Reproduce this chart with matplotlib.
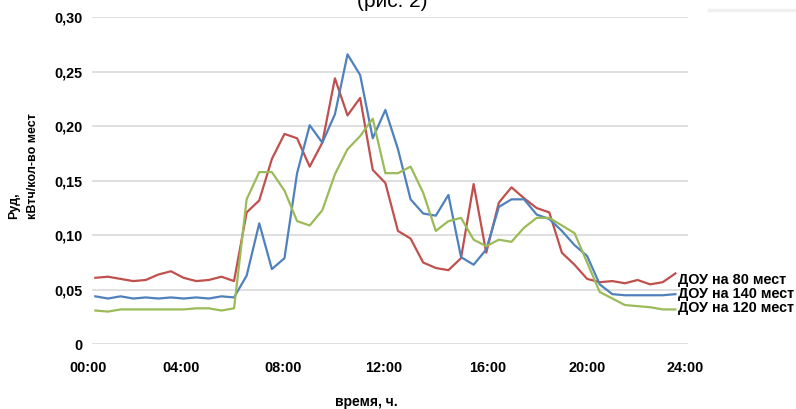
import matplotlib
matplotlib.use("Agg")
import matplotlib.pyplot as plt
from matplotlib.lines import Line2D

plt.rcParams['font.family'] = ['Liberation Sans', 'DejaVu Sans']

# half-hour steps, 00:00 .. 23:00
steps = list(range(47))

dou_80 = [0.061, 0.062, 0.060, 0.058, 0.059, 0.064, 0.067, 0.061, 0.058, 0.059, 0.062, 0.058,
          0.121, 0.132, 0.170, 0.193, 0.189, 0.163, 0.185, 0.244, 0.210, 0.226, 0.160, 0.148,
          0.104, 0.097, 0.075, 0.070, 0.068, 0.079, 0.147, 0.084, 0.130, 0.144, 0.134, 0.125,
          0.121, 0.084, 0.073, 0.060, 0.057, 0.058, 0.056, 0.059, 0.055, 0.057, 0.065]
dou_140 = [0.044, 0.042, 0.044, 0.042, 0.043, 0.042, 0.043, 0.042, 0.043, 0.042, 0.044, 0.043,
           0.063, 0.111, 0.069, 0.079, 0.157, 0.201, 0.185, 0.211, 0.266, 0.247, 0.189, 0.215,
           0.179, 0.133, 0.120, 0.118, 0.137, 0.080, 0.073, 0.087, 0.126, 0.133, 0.133, 0.119,
           0.115, 0.104, 0.091, 0.081, 0.055, 0.046, 0.045, 0.045, 0.045, 0.045, 0.046]
dou_120 = [0.031, 0.030, 0.032, 0.032, 0.032, 0.032, 0.032, 0.032, 0.033, 0.033, 0.031, 0.033,
           0.133, 0.158, 0.158, 0.141, 0.113, 0.109, 0.123, 0.156, 0.179, 0.191, 0.207, 0.157,
           0.157, 0.163, 0.139, 0.104, 0.113, 0.116, 0.096, 0.090, 0.096, 0.094, 0.107, 0.116,
           0.116, 0.109, 0.102, 0.075, 0.048, 0.042, 0.036, 0.035, 0.034, 0.032, 0.032]

series = [
    (dou_80, 'ДОУ на 80 мест', '#C0504D', -4.8),
    (dou_140, 'ДОУ на 140 мест', '#4F81BD', 0.0),
    (dou_120, 'ДОУ на 120 мест', '#9BBB59', 0.7),
]

time_labels = ['00:00', '04:00', '08:00', '12:00', '16:00', '20:00', '24:00']
time_ticks = [-0.6, 6.77, 14.9, 22.84, 31.1, 39.0, 46.8]
y_ticks = [0, 0.05, 0.10, 0.15, 0.20, 0.25, 0.30]
y_labels = ['0', '0,05', '0,10', '0,15', '0,20', '0,25', '0,30']

fig = plt.figure(figsize=(7.96, 4.09), dpi=100)
ax = fig.add_axes([86.5 / 796, 1 - 344.3 / 409, (688 - 86.5) / 796, (344.3 - 17.3) / 409])

ax.hlines(y_ticks, -0.285, 46.97, color='#D9D9D9', linewidth=1.2, zorder=1)

for vals, name, color, dy in series:
    ax.plot(steps, vals, color=color, linewidth=1.6, zorder=3)
    ax.annotate(name, xy=(steps[-1], vals[-1]), xytext=(1.8, dy), textcoords='offset points',
                va='center', ha='left', fontsize=10.4, fontweight='bold', annotation_clip=False)

ax.set_xlim(-0.7, 47.0)
ax.set_ylim(0, 0.30)
ax.set_xticks(time_ticks)
ax.set_xticklabels(time_labels, fontsize=10.4, fontweight='bold')
ax.set_yticks(y_ticks)
ax.set_yticklabels(y_labels, fontsize=10.4, fontweight='bold')
ax.tick_params(axis='x', length=0, pad=12)
ax.tick_params(axis='y', length=0, pad=3)
for s in ax.spines.values():
    s.set_visible(False)

fig.text(14 / 796, 1 - 219 / 409, 'Руд,', rotation=90, ha='center', va='bottom',
         fontsize=9, fontweight='bold')
fig.text(32.5 / 796, 1 - 219 / 409, 'кВтч/кол-во мест', rotation=90, ha='center', va='bottom',
         fontsize=9, fontweight='bold')
fig.text(366 / 796, 1 - 402 / 409, 'время, ч.', ha='center', va='center',
         fontsize=10, fontweight='bold')
fig.text(392 / 796, 1 - 7 / 409, '(рис. 2)', ha='center', va='baseline', fontsize=15)

fig.add_artist(Line2D([709 / 796, 1.0], [1 - 10 / 409, 1 - 10 / 409], color='#F0F0F0', linewidth=2.5))

fig.savefig('out.png', dpi=100)
